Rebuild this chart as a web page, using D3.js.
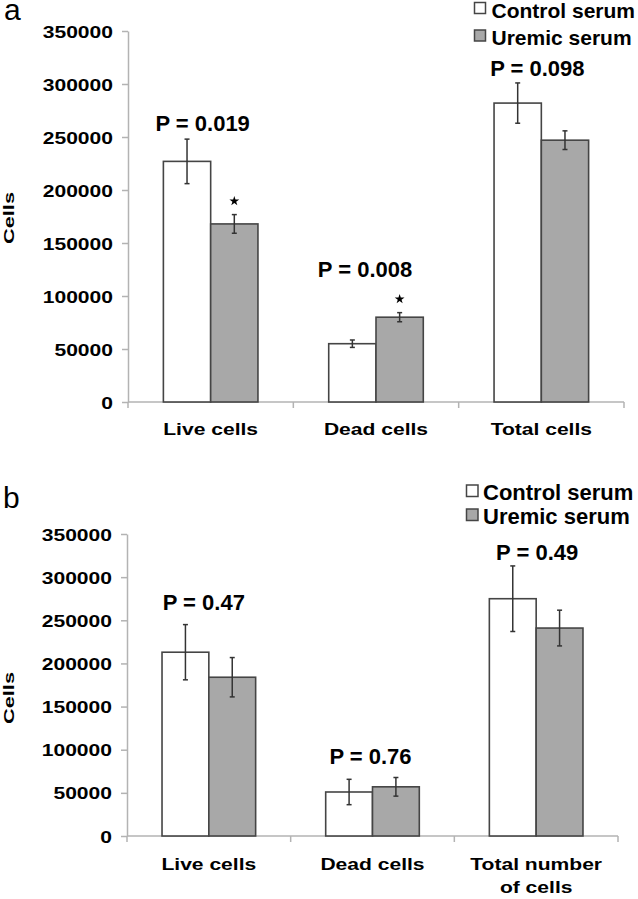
<!DOCTYPE html>
<html>
<head>
<meta charset="utf-8">
<script src="https://cdn.jsdelivr.net/npm/d3@7"></script>
<style>
  html, body { margin: 0; padding: 0; background: #fff; }
  svg { display: block; }
  text { font-family: "Liberation Sans", Arial, sans-serif; fill: #000; }
</style>
</head>
<body>
<svg id="chart" width="638" height="899"></svg>
<script>
// ---------------- DATA ----------------
const seriesNames = ["Control serum", "Uremic serum"];
const yTicks = [0, 50000, 100000, 150000, 200000, 250000, 300000, 350000];

// Panel a
const categoriesA = [["Live cells"], ["Dead cells"], ["Total cells"]];
const controlA    = [227000, 55000, 282000];
const controlErrA = [21000, 3500, 19000];
const uremicA     = [168000, 80000, 247000];
const uremicErrA  = [8800, 4300, 8800];
const pLabelsA    = ["P = 0.019", "P = 0.008", "P = 0.098"];
const starsA      = [true, true, false];

// Panel b
const categoriesB = [["Live cells"], ["Dead cells"], ["Total number", "of cells"]];
const controlB    = [213000, 51000, 275000];
const controlErrB = [32000, 14700, 38000];
const uremicB     = [184000, 57000, 241000];
const uremicErrB  = [22800, 10800, 20700];
const pLabelsB    = ["P = 0.47", "P = 0.76", "P = 0.49"];
const starsB      = [false, false, false];

// ---------------- LAYOUT ----------------
const svg = d3.select("#chart");
const FONT = '"Liberation Sans", Arial, sans-serif';
const STRETCH = 1.24;
const colors = { control: "#ffffff", uremic: "#a8a8a8", stroke: "#454545", axis: "#b3b3b3", err: "#333333" };

const panels = [
  {
    letter: "a", letterX: 4, letterY: 20,
    left: 128, right: 624, top: 31, bottom: 402,
    cats: categoriesA, control: controlA, controlErr: controlErrA,
    uremic: uremicA, uremicErr: uremicErrA, pLabels: pLabelsA, stars: starsA,
    pDx: [-8, -11, -4], pGap: [8, 36, 7],
    ylabY: 218, catY: 435,
    legend: { boxX: 474.5, textX: 491.5, y1: 17.5, y2: 45, font: 21, box: 11 }
  },
  {
    letter: "b", letterX: 3, letterY: 508,
    left: 127, right: 618, top: 534, bottom: 836,
    cats: categoriesB, control: controlB, controlErr: controlErrB,
    uremic: uremicB, uremicErr: uremicErrB, pLabels: pLabelsB, stars: starsB,
    pDx: [-5, -2, 1], pGap: [15, 13, 6],
    ylabY: 698, catY: 870,
    legend: { boxX: 466.5, textX: 483, y1: 500, y2: 524, font: 22, box: 11.5 }
  }
];

panels.forEach(p => {
  const g = svg.append("g");
  const n = p.cats.length;
  const x0 = d3.scaleBand().domain(d3.range(n)).range([p.left, p.right]).padding(0);
  const pairFrac = 0.572;
  const x1 = d3.scaleBand().domain(seriesNames)
    .range([0, x0.bandwidth() * pairFrac]).padding(0);
  const pairOffset = x0.bandwidth() * (1 - pairFrac) / 2;
  const y = d3.scaleLinear().domain([0, 350000]).range([p.bottom, p.top]);

  // panel letter
  g.append("text").attr("x", p.letterX).attr("y", p.letterY)
    .attr("font-size", 30).attr("font-family", FONT).text(p.letter);

  // y axis
  const yAxis = g.append("g").attr("transform", `translate(${p.left},0)`)
    .call(d3.axisLeft(y).tickValues(yTicks).tickFormat(d3.format("d")).tickSize(6).tickSizeOuter(0));
  yAxis.select(".domain").attr("stroke", colors.axis).attr("stroke-width", 1.5);
  yAxis.selectAll(".tick line").attr("stroke", colors.axis).attr("stroke-width", 1.5);
  yAxis.selectAll(".tick text")
    .attr("x", 0)
    .attr("dy", "0.36em")
    .attr("transform", `translate(-15,0) scale(${STRETCH},1)`)
    .attr("font-size", 17).attr("font-weight", "bold").attr("font-family", FONT)
    .attr("fill", "#000");

  // x axis line with category boundary ticks
  const boundaries = d3.range(n + 1).map(i => i < n ? x0(i) : x0(n - 1) + x0.bandwidth());
  g.append("line").attr("x1", p.left).attr("x2", p.right)
    .attr("y1", y(0)).attr("y2", y(0))
    .attr("stroke", colors.axis).attr("stroke-width", 1.5);
  g.selectAll(".xtick").data(boundaries).join("line")
    .attr("x1", d => d).attr("x2", d => d)
    .attr("y1", y(0)).attr("y2", y(0) + 6)
    .attr("stroke", colors.axis).attr("stroke-width", 1.5);

  // y label
  g.append("text")
    .attr("transform", `translate(14,${p.ylabY}) rotate(-90) scale(1.45,1)`)
    .attr("text-anchor", "middle").attr("font-size", 15).attr("font-weight", "bold")
    .attr("font-family", FONT).text("Cells");

  // bars
  const rows = d3.range(n).map(i => ({
    i,
    vals: [
      { key: seriesNames[0], v: p.control[i], e: p.controlErr[i], fill: colors.control },
      { key: seriesNames[1], v: p.uremic[i], e: p.uremicErr[i], fill: colors.uremic }
    ]
  }));
  const grp = g.selectAll(".cat").data(rows).join("g")
    .attr("transform", d => `translate(${x0(d.i) + pairOffset},0)`);

  grp.selectAll("rect").data(d => d.vals).join("rect")
    .attr("x", d => x1(d.key)).attr("width", x1.bandwidth())
    .attr("y", d => y(d.v)).attr("height", d => y(0) - y(d.v))
    .attr("fill", d => d.fill).attr("stroke", colors.stroke).attr("stroke-width", 1.6);

  // error bars
  const eb = grp.selectAll(".eb").data(d => d.vals).join("g")
    .attr("transform", d => `translate(${x1(d.key) + x1.bandwidth() / 2},0)`);
  eb.append("line").attr("x1", 0).attr("x2", 0)
    .attr("y1", d => y(d.v + d.e)).attr("y2", d => y(d.v - d.e))
    .attr("stroke", colors.err).attr("stroke-width", 1.5);
  eb.append("line").attr("x1", -2.5).attr("x2", 2.5)
    .attr("y1", d => y(d.v + d.e)).attr("y2", d => y(d.v + d.e))
    .attr("stroke", colors.err).attr("stroke-width", 1.5);
  eb.append("line").attr("x1", -2.5).attr("x2", 2.5)
    .attr("y1", d => y(d.v - d.e)).attr("y2", d => y(d.v - d.e))
    .attr("stroke", colors.err).attr("stroke-width", 1.5);

  // stars above uremic bars
  d3.range(n).filter(i => p.stars[i]).forEach(i => {
    const cx = x0(i) + pairOffset + x1(seriesNames[1]) + x1.bandwidth() / 2;
    const cy = y(p.uremic[i] + p.uremicErr[i]) - 13.5;
    g.append("path").attr("d", d3.symbol(d3.symbolStar, 30)())
      .attr("transform", `translate(${cx},${cy})`).attr("fill", "#000");
  });

  // P labels
  d3.range(n).forEach(i => {
    const top = Math.min(y(p.control[i] + p.controlErr[i]), y(p.uremic[i] + p.uremicErr[i]));
    g.append("text")
      .attr("x", x0(i) + x0.bandwidth() / 2 + p.pDx[i])
      .attr("y", top - p.pGap[i])
      .attr("text-anchor", "middle").attr("font-size", 22).attr("font-weight", "bold")
      .attr("font-family", FONT).text(p.pLabels[i]);
  });

  // category labels
  rows.forEach(d => {
    const cx = x0(d.i) + x0.bandwidth() / 2;
    p.cats[d.i].forEach((line, li) => {
      g.append("text")
        .attr("transform", `translate(${cx},${p.catY + li * 23}) scale(${STRETCH},1)`)
        .attr("text-anchor", "middle").attr("font-size", 17).attr("font-weight", "bold")
        .attr("font-family", FONT).text(line);
    });
  });

  // legend
  const L = p.legend;
  [L.y1, L.y2].forEach((ly, k) => {
    g.append("rect")
      .attr("x", L.boxX).attr("y", ly - 15).attr("width", L.box).attr("height", L.box)
      .attr("fill", k === 0 ? colors.control : colors.uremic)
      .attr("stroke", colors.stroke).attr("stroke-width", 1.5);
    g.append("text").attr("x", L.textX).attr("y", ly)
      .attr("font-size", L.font).attr("font-weight", "bold").attr("font-family", FONT)
      .text(seriesNames[k]);
  });
});
</script>
</body>
</html>
